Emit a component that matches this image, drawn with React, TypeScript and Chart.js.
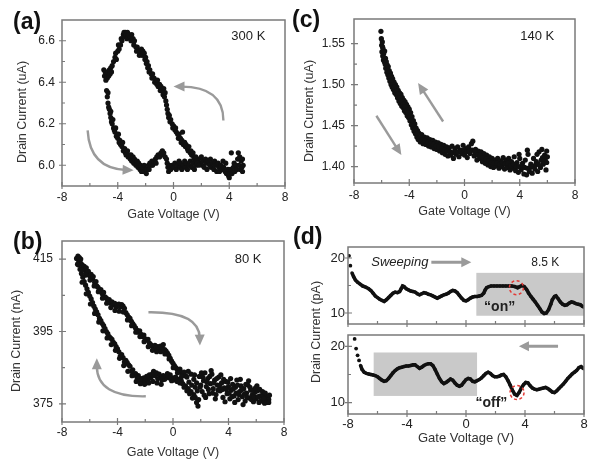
import React, { useEffect, useRef } from "react";
import { Chart, registerables } from "chart.js";

Chart.register(...registerables);

const FONT = '"Liberation Sans", Arial, Helvetica, sans-serif';
const INK = "#111111";
const ARROW = "#9a9a9a";
const FRAME = "#7a7a7a";
const LABEL = "#222222";

// ---------------- shared axis values ----------------
const gateTicks = [-8, -4, 0, 4, 8];
const gateMinor = [-6, -2, 2, 6];

// ---------------- panel (a) 300 K ----------------
const aCurrentTicks = [6.0, 6.2, 6.4, 6.6];
const aCurrentMinor = [6.1, 6.3, 6.5];
const a300KUpper = [
  [-5.0, 6.46], [-4.95, 6.43], [-4.9, 6.45], [-4.85, 6.41], [-4.8, 6.44], [-4.75, 6.42], [-4.7, 6.45], [-4.65, 6.43],
  [-4.6, 6.46], [-4.55, 6.44], [-4.5, 6.47], [-4.45, 6.45], [-4.4, 6.48], [-4.3, 6.5], [-4.2, 6.52], [-4.15, 6.54],
  [-4.1, 6.51], [-4.0, 6.55], [-3.95, 6.58], [-3.9, 6.56], [-3.8, 6.58], [-3.75, 6.61], [-3.7, 6.6], [-3.6, 6.63],
  [-3.55, 6.64], [-3.5, 6.62], [-3.45, 6.64], [-3.4, 6.63], [-3.35, 6.61], [-3.3, 6.64], [-3.25, 6.62], [-3.2, 6.63],
  [-3.1, 6.62], [-3.05, 6.6], [-3.0, 6.63], [-2.9, 6.61], [-2.85, 6.58], [-2.8, 6.6], [-2.7, 6.57], [-2.65, 6.55],
  [-2.6, 6.57], [-2.5, 6.55], [-2.45, 6.53], [-2.4, 6.55], [-2.3, 6.56], [-2.25, 6.53], [-2.2, 6.55], [-2.1, 6.54],
  [-2.05, 6.51], [-2.0, 6.52], [-1.95, 6.49], [-1.9, 6.5], [-1.85, 6.47], [-1.8, 6.48], [-1.75, 6.45], [-1.7, 6.46],
  [-1.6, 6.44], [-1.55, 6.42], [-1.5, 6.44], [-1.4, 6.42], [-1.35, 6.4], [-1.3, 6.41], [-1.2, 6.39], [-1.15, 6.41],
  [-1.1, 6.38], [-1.0, 6.39], [-0.95, 6.36], [-0.9, 6.38], [-0.8, 6.36], [-0.75, 6.34], [-0.7, 6.37], [-0.65, 6.33],
  [-0.6, 6.35], [-0.55, 6.31], [-0.5, 6.29], [-0.45, 6.27], [-0.4, 6.25], [-0.35, 6.23], [-0.3, 6.24], [-0.25, 6.21],
  [-0.2, 6.22], [-0.1, 6.2], [-0.05, 6.18], [0.0, 6.19], [0.1, 6.17], [0.15, 6.18], [0.2, 6.16], [0.3, 6.15],
  [0.35, 6.13], [0.4, 6.15], [0.5, 6.13], [0.55, 6.11], [0.6, 6.12], [0.65, 6.16], [0.7, 6.1], [0.8, 6.11],
  [0.85, 6.09], [0.9, 6.1], [1.0, 6.08], [1.05, 6.07], [1.1, 6.09], [1.2, 6.06], [1.25, 6.07], [1.3, 6.05],
  [1.4, 6.06], [1.45, 6.04], [1.5, 6.03], [1.6, 6.04], [1.65, 6.02], [1.7, 6.01], [1.8, 6.0],
];
const a300KLower = [
  [-4.8, 6.36], [-4.75, 6.33], [-4.7, 6.35], [-4.7, 6.3], [-4.65, 6.28], [-4.6, 6.27], [-4.55, 6.25], [-4.5, 6.23],
  [-4.5, 6.26], [-4.45, 6.21], [-4.4, 6.2], [-4.35, 6.22], [-4.3, 6.18], [-4.25, 6.17], [-4.2, 6.16], [-4.15, 6.18],
  [-4.1, 6.14], [-4.0, 6.13], [-3.95, 6.15], [-3.9, 6.11], [-3.85, 6.12], [-3.8, 6.1], [-3.7, 6.09], [-3.65, 6.11],
  [-3.6, 6.07], [-3.5, 6.08], [-3.45, 6.06], [-3.4, 6.05], [-3.3, 6.07], [-3.25, 6.04], [-3.2, 6.05], [-3.1, 6.03],
  [-3.05, 6.05], [-3.0, 6.02], [-2.9, 6.04], [-2.85, 6.01], [-2.8, 6.03], [-2.7, 6.0], [-2.6, 6.02], [-2.55, 5.99],
  [-2.5, 6.01], [-2.4, 5.98], [-2.35, 6.0], [-2.3, 5.97], [-2.2, 5.99], [-2.15, 5.97], [-2.1, 6.0], [-2.0, 5.98],
  [-1.95, 5.96], [-1.9, 5.98], [-1.8, 6.0], [-1.75, 5.98], [-1.7, 6.01], [-1.6, 6.0], [-1.55, 6.02], [-1.5, 6.0],
  [-1.4, 6.02], [-1.3, 6.03], [-1.25, 6.01], [-1.2, 6.04], [-1.1, 6.05], [-1.0, 6.04], [-0.9, 6.06], [-0.8, 6.07],
  [-0.75, 6.05], [-0.7, 6.06], [-0.6, 6.04], [-0.5, 6.03], [-0.45, 6.01], [-0.4, 5.99], [-0.35, 5.97], [-0.3, 6.0],
  [-0.2, 5.98], [-0.1, 6.0], [0.0, 5.99], [0.1, 6.01], [0.2, 5.98], [0.3, 6.0], [0.4, 6.02], [0.45, 5.99],
  [0.5, 6.01], [0.6, 5.98], [0.7, 6.0], [0.8, 6.02], [0.85, 5.99], [0.9, 6.01], [1.0, 5.98], [1.1, 6.0],
  [1.2, 6.02], [1.3, 5.99], [1.4, 6.01], [1.5, 5.98], [1.6, 6.0], [1.7, 6.02], [1.8, 6.03], [1.9, 6.01],
  [2.0, 6.04], [2.05, 6.0], [2.1, 6.02], [2.2, 5.99], [2.3, 6.03], [2.35, 6.01], [2.4, 5.98], [2.5, 6.02],
  [2.6, 6.0], [2.65, 6.03], [2.7, 5.99], [2.8, 6.01], [2.9, 5.98], [2.95, 6.02], [3.0, 6.0], [3.1, 5.97],
  [3.2, 6.01], [3.25, 5.99], [3.3, 5.97], [3.4, 6.0], [3.5, 5.98], [3.55, 6.02], [3.6, 5.99], [3.7, 5.97],
  [3.75, 6.01], [3.8, 5.96], [3.9, 5.98], [3.95, 5.95], [4.0, 5.94], [4.05, 5.96], [4.1, 5.98], [4.15, 6.06],
  [4.2, 5.96], [4.3, 5.99], [4.35, 6.01], [4.4, 5.97], [4.5, 6.0], [4.55, 5.98], [4.6, 6.03], [4.65, 6.06],
  [4.7, 6.0], [4.75, 6.04], [4.8, 5.98], [4.85, 6.02], [4.9, 5.99], [4.95, 6.03], [5.0, 6.0], [4.95, 5.97],
];

// ---------------- panel (c) 140 K ----------------
const cCurrentTicks = [1.4, 1.45, 1.5, 1.55];
const cCurrentMinor = [1.425, 1.475, 1.525];
const c140KPoints = [
  [-6.05, 1.565], [-6.02, 1.556], [-6.0, 1.548], [-5.98, 1.54], [-5.95, 1.552], [-5.92, 1.535], [-5.9, 1.544],
  [-5.87, 1.53], [-5.85, 1.538], [-5.8, 1.528], [-5.78, 1.541], [-5.75, 1.525], [-5.72, 1.532], [-5.7, 1.52],
  [-5.66, 1.528], [-5.62, 1.515], [-5.6, 1.524], [-5.55, 1.512], [-5.52, 1.522], [-5.48, 1.508], [-5.45, 1.517],
  [-5.4, 1.504], [-5.36, 1.514], [-5.32, 1.5], [-5.28, 1.51], [-5.24, 1.497], [-5.2, 1.507], [-5.15, 1.494],
  [-5.1, 1.503], [-5.05, 1.49], [-5.0, 1.5], [-4.95, 1.488], [-4.9, 1.497], [-4.85, 1.484], [-4.8, 1.493],
  [-4.75, 1.48], [-4.7, 1.49], [-4.65, 1.477], [-4.6, 1.488], [-4.55, 1.474], [-4.5, 1.484], [-4.45, 1.472],
  [-4.4, 1.481], [-4.35, 1.468], [-4.3, 1.479], [-4.25, 1.466], [-4.2, 1.476], [-4.15, 1.462], [-4.1, 1.473],
  [-4.05, 1.46], [-4.0, 1.47], [-3.95, 1.456], [-3.9, 1.466], [-3.85, 1.451], [-3.8, 1.461], [-3.75, 1.447],
  [-3.7, 1.456], [-3.65, 1.443], [-3.6, 1.452], [-3.55, 1.44], [-3.5, 1.447], [-3.45, 1.436], [-3.4, 1.444],
  [-3.35, 1.433], [-3.3, 1.441], [-3.2, 1.43], [-3.1, 1.439], [-3.0, 1.428], [-2.9, 1.436], [-2.8, 1.427],
  [-2.7, 1.435], [-2.6, 1.425], [-2.5, 1.433], [-2.4, 1.424], [-2.3, 1.432], [-2.2, 1.422], [-2.1, 1.43],
  [-2.0, 1.421], [-1.9, 1.429], [-1.8, 1.419], [-1.7, 1.427], [-1.6, 1.417], [-1.5, 1.426], [-1.4, 1.415],
  [-1.3, 1.424], [-1.2, 1.413], [-1.1, 1.423], [-1.0, 1.414], [-0.9, 1.425], [-0.8, 1.41], [-0.7, 1.422],
  [-0.6, 1.415], [-0.5, 1.424], [-0.4, 1.412], [-0.3, 1.42], [-0.2, 1.416], [-0.1, 1.426], [0.0, 1.414],
  [0.1, 1.422], [0.2, 1.411], [0.3, 1.424], [0.4, 1.416], [0.5, 1.428], [0.6, 1.431], [0.7, 1.413],
  [0.8, 1.421], [0.9, 1.408], [1.0, 1.419], [1.1, 1.41], [1.2, 1.418], [1.3, 1.406], [1.4, 1.416],
  [1.5, 1.404], [1.6, 1.414], [1.7, 1.402], [1.8, 1.412], [1.9, 1.4], [2.0, 1.41], [2.1, 1.399],
  [2.2, 1.408], [2.3, 1.401], [2.4, 1.41], [2.5, 1.398], [2.6, 1.407], [2.7, 1.4], [2.8, 1.411],
  [2.9, 1.397], [3.0, 1.408], [3.1, 1.399], [3.2, 1.41], [3.3, 1.396], [3.4, 1.406], [3.5, 1.398],
  [3.6, 1.412], [3.7, 1.395], [3.8, 1.405], [3.9, 1.393], [4.0, 1.41], [4.1, 1.396], [4.2, 1.404],
  [4.3, 1.391], [4.4, 1.408], [4.5, 1.39], [4.6, 1.415], [4.7, 1.394], [4.8, 1.403], [4.9, 1.392],
  [5.0, 1.41], [5.1, 1.397], [5.2, 1.406], [5.3, 1.394], [5.4, 1.418], [5.5, 1.399], [5.6, 1.421],
  [5.7, 1.403], [5.8, 1.414], [5.9, 1.396], [6.0, 1.412], [5.95, 1.419], [5.85, 1.408], [5.65, 1.411],
  [5.25, 1.415], [4.55, 1.42], [3.95, 1.415],
  [-5.93, 1.546], [-5.83, 1.533], [-5.68, 1.524], [-5.58, 1.517], [-5.43, 1.51], [-5.33, 1.505], [-5.18, 1.5],
  [-5.08, 1.497], [-4.93, 1.492], [-4.83, 1.488], [-4.68, 1.484], [-4.58, 1.48], [-4.43, 1.476], [-4.33, 1.473],
  [-4.18, 1.469], [-4.08, 1.466], [-3.93, 1.461], [-3.83, 1.457], [-3.68, 1.45], [-3.58, 1.446], [-3.43, 1.44],
  [-3.25, 1.435], [-3.05, 1.433], [-2.85, 1.431], [-2.65, 1.43], [-2.45, 1.428], [-2.25, 1.427], [-2.05, 1.425],
  [-1.85, 1.424], [-1.65, 1.422], [-1.45, 1.42], [-1.25, 1.419], [-1.05, 1.418], [-0.85, 1.417], [-0.65, 1.418],
  [-0.45, 1.418], [-0.25, 1.419], [-0.05, 1.42], [0.15, 1.418], [0.35, 1.419], [0.55, 1.42], [0.75, 1.418],
  [0.95, 1.414], [1.15, 1.413], [1.35, 1.411], [1.55, 1.409], [1.75, 1.407], [1.95, 1.405], [2.15, 1.404],
  [2.35, 1.404], [2.55, 1.403], [2.75, 1.405], [2.95, 1.403], [3.15, 1.404], [3.35, 1.401], [3.55, 1.403],
  [3.75, 1.4], [3.95, 1.4], [4.15, 1.4], [4.35, 1.399], [4.55, 1.398], [4.75, 1.399], [4.95, 1.4],
  [5.15, 1.402], [5.35, 1.403], [5.55, 1.408], [5.75, 1.406], [5.95, 1.405],
];

// ---------------- panel (b) 80 K ----------------
const bCurrentTicks = [375, 395, 415];
const bCurrentMinor = [385, 405];
const b80KUpper = [
  [-6.95, 415.2], [-6.85, 415.8], [-6.8, 414.6], [-6.75, 415.4], [-6.7, 414.2], [-6.65, 415], [-6.6, 413.6],
  [-6.5, 413.2], [-6.45, 412.4], [-6.4, 413], [-6.3, 411.8], [-6.25, 412.6], [-6.2, 411.2], [-6.1, 411.6],
  [-6.0, 410.4], [-5.9, 410.8], [-5.8, 409.6], [-5.75, 410.2], [-5.65, 408.6], [-5.55, 408.8], [-5.5, 407.6],
  [-5.4, 407.2], [-5.3, 406.4], [-5.2, 406.6], [-5.1, 405.4], [-5.0, 405.8], [-4.9, 404.6], [-4.8, 404.2],
  [-4.7, 403.6], [-4.6, 403.8], [-4.5, 402.8], [-4.4, 403.2], [-4.3, 402.4], [-4.2, 402.8], [-4.1, 401.8],
  [-4.0, 402.4], [-3.9, 402.6], [-3.8, 401.8], [-3.7, 402.4], [-3.6, 402.0], [-3.5, 401.4], [-3.4, 400.2],
  [-3.3, 399.6], [-3.2, 399.0], [-3.1, 398.6], [-3.0, 397.8], [-2.9, 397.2], [-2.8, 396.6], [-2.7, 396.0],
  [-2.6, 395.4], [-2.5, 394.8], [-2.4, 395.2], [-2.3, 394.2], [-2.2, 393.6], [-2.1, 394.0], [-2.0, 393.0],
  [-1.9, 392.6], [-1.8, 392.8], [-1.7, 391.8], [-1.6, 391.4], [-1.5, 391.0], [-1.4, 390.6], [-1.3, 391.2],
  [-1.2, 390.4], [-1.1, 390.8], [-1.0, 390.2], [-0.9, 391.0], [-0.8, 390.6], [-0.7, 391.4], [-0.6, 390.0],
  [-0.5, 389.6], [-0.4, 389.0], [-0.3, 388.4], [-0.2, 387.6], [-0.1, 386.8], [0.0, 386.2], [0.1, 385.6],
  [0.2, 385.0], [0.3, 384.6], [0.4, 384.2], [0.5, 384.6], [0.6, 383.6], [0.7, 383.2], [0.8, 383.8],
  [0.9, 382.8], [1.0, 382.4],
  [-6.88, 413.6], [-6.58, 412.0], [-6.28, 410.6], [-5.98, 409.2], [-5.68, 407.6], [-5.38, 406.0], [-5.08, 404.2],
  [-4.78, 402.8], [-4.48, 401.6], [-4.18, 400.8], [-3.88, 400.6], [-3.58, 400.4], [-3.28, 398.2], [-2.98, 396.6],
  [-2.68, 394.8], [-2.38, 393.6], [-2.08, 392.2], [-1.78, 390.8], [-1.48, 389.8], [-1.18, 389.4], [-0.88, 389.4],
  [-0.58, 388.8], [-0.28, 387.4], [0.02, 385.0], [0.32, 383.6], [0.62, 382.6],
];
const b80KLower = [
  [1.8, 374.4], [1.7, 375.4], [1.6, 376.8], [1.5, 377.6], [1.4, 376.6], [1.3, 378.4], [1.2, 377.8], [1.1, 379.2],
  [1.0, 378.6], [0.9, 380.0], [0.8, 379.6], [0.7, 380.6], [0.6, 381.4], [0.5, 380.8], [0.4, 381.8], [0.3, 381.2],
  [0.2, 382.4], [0.1, 381.6], [0.0, 382.2], [-0.1, 381.4], [-0.2, 383.0], [-0.3, 382.2], [-0.4, 383.4], [-0.5, 382.6],
  [-0.6, 381.8], [-0.7, 382.8], [-0.8, 381.6], [-0.9, 382.4], [-1.0, 383.2], [-1.1, 382.0], [-1.2, 383.6],
  [-1.3, 382.8], [-1.4, 384.0], [-1.5, 383.2], [-1.6, 382.2], [-1.7, 383.0], [-1.8, 381.8], [-1.9, 382.6],
  [-2.0, 381.4], [-2.1, 382.2], [-2.2, 381.2], [-2.3, 382.0], [-2.4, 381.6], [-2.5, 382.8], [-2.6, 382.4],
  [-2.7, 383.4], [-2.8, 383.0], [-2.9, 384.4], [-3.0, 384.0], [-3.1, 385.4], [-3.2, 385.8], [-3.3, 386.4],
  [-3.4, 387.0], [-3.5, 386.6], [-3.6, 387.8], [-3.7, 388.6], [-3.8, 388.2], [-3.9, 389.4], [-4.0, 390.2],
  [-4.1, 390.8], [-4.2, 391.6], [-4.3, 392.0], [-4.4, 392.8], [-4.5, 393.2], [-4.6, 393.6], [-4.7, 394.4],
  [-4.8, 395.0], [-4.9, 395.8], [-5.0, 396.6], [-5.1, 397.2], [-5.2, 398.0], [-5.3, 398.6], [-5.4, 399.6],
  [-5.5, 400.4], [-5.6, 401.2], [-5.7, 402.0], [-5.8, 403.0], [-5.9, 404.0], [-6.0, 404.8], [-6.1, 405.8],
  [-6.2, 406.8], [-6.3, 407.8], [-6.4, 408.8], [-6.5, 410.0], [-6.6, 411.0], [-6.7, 412.2], [-6.8, 413.4],
  [-6.55, 408.6], [-6.25, 405.4], [-5.95, 402.6], [-5.65, 400.0], [-5.35, 397.6], [-5.05, 395.2], [-4.75, 393.2],
  [-4.45, 391.4], [-4.15, 389.8], [-3.85, 387.6], [-3.55, 385.6], [-3.25, 384.0], [-2.95, 382.8], [-2.65, 381.2],
  [-2.35, 380.6], [-2.05, 380.4], [-1.75, 380.8], [-1.45, 381.2], [-1.15, 380.8], [-0.85, 380.4],
];
const b80KTail = [
  [1.1, 384.0], [1.3, 383.2], [1.5, 381.8], [1.6, 379.6], [1.7, 380.8], [1.9, 382.6], [2.0, 380.2], [2.1, 378.4],
  [2.2, 381.4], [2.3, 383.6], [2.4, 379.8], [2.5, 382.0], [2.6, 377.8], [2.7, 380.6], [2.8, 383.2], [2.9, 379.2],
  [3.0, 381.6], [3.1, 377.6], [3.2, 380.2], [3.3, 382.4], [3.4, 378.6], [3.5, 380.8], [3.6, 376.8], [3.7, 379.4],
  [3.8, 381.2], [3.9, 377.8], [4.0, 379.8], [4.1, 376.4], [4.2, 378.8], [4.3, 380.4], [4.4, 377.2], [4.5, 379.6],
  [4.6, 381.6], [4.7, 376.2], [4.8, 378.4], [4.9, 380.0], [5.0, 377.0], [5.1, 379.2], [5.2, 375.8], [5.3, 378.0],
  [5.4, 380.2], [5.5, 376.6], [5.6, 378.8], [5.7, 377.4], [5.8, 375.6], [5.9, 378.2], [6.0, 376.4], [6.1, 378.6],
  [6.2, 375.4], [6.3, 377.2], [6.4, 376.0], [6.5, 377.6], [6.6, 375.2], [6.7, 376.8], [6.8, 375.8], [6.85, 377.0],
  [6.9, 376.2], [2.05, 383.6], [2.75, 384.2], [3.45, 383.0], [4.15, 382.0], [4.85, 381.8], [5.45, 381.4],
  [6.05, 380.0], [2.35, 376.8], [3.05, 376.4], [3.75, 375.6], [4.45, 375.4], [5.05, 374.8],
  [1.15, 381.0], [1.35, 380.2], [1.55, 383.0], [1.75, 378.6], [1.85, 376.2], [1.95, 379.6], [2.15, 382.4],
  [2.25, 377.4], [2.45, 381.0], [2.55, 379.0], [2.65, 382.6], [2.85, 378.0], [2.95, 380.8], [3.15, 382.0],
  [3.25, 378.8], [3.35, 380.0], [3.55, 379.0], [3.65, 381.8], [3.85, 379.0], [3.95, 381.0], [4.05, 378.0],
  [4.25, 377.0], [4.35, 379.2], [4.55, 378.0], [4.65, 380.2], [4.75, 377.6], [4.95, 379.0], [5.15, 377.8],
  [5.25, 380.4], [5.35, 376.8], [5.55, 379.6], [5.65, 376.2], [5.75, 378.8], [5.85, 377.0], [5.95, 379.4],
  [6.15, 377.0], [6.25, 379.0], [6.35, 375.8], [6.45, 378.4], [6.55, 376.4], [6.65, 378.0], [6.75, 375.4],
  [6.95, 377.4], [6.9, 375.4],
];

// ---------------- panel (d) 8.5 K ----------------
const dCurrentTicks = [10, 20];
const dCurrentMinor = [15];
const dForwardDots = [[-7.93, 20.4], [-7.84, 18.6]];
const dForwardSweep = [
  [-7.73, 17.3], [-7.62, 16.6], [-7.5, 16.0], [-7.35, 15.6], [-7.2, 15.3], [-7.0, 14.9], [-6.8, 14.7], [-6.6, 14.4],
  [-6.45, 14.1], [-6.3, 13.6], [-6.15, 13.1], [-6.0, 12.8], [-5.85, 12.5], [-5.7, 12.3], [-5.55, 12.1], [-5.4, 12.4],
  [-5.25, 12.8], [-5.1, 13.2], [-4.95, 13.6], [-4.8, 13.8], [-4.65, 13.7], [-4.5, 13.9], [-4.4, 14.4], [-4.3, 14.9],
  [-4.2, 14.8], [-4.05, 14.4], [-3.9, 14.2], [-3.75, 14.0], [-3.6, 13.9], [-3.45, 13.8], [-3.3, 13.5], [-3.15, 13.3],
  [-3.0, 13.5], [-2.85, 13.7], [-2.7, 13.6], [-2.55, 13.4], [-2.4, 13.3], [-2.25, 13.1], [-2.1, 12.9], [-1.95, 12.7],
  [-1.8, 12.9], [-1.65, 13.1], [-1.5, 13.3], [-1.35, 13.4], [-1.2, 13.6], [-1.05, 13.9], [-0.9, 14.1], [-0.75, 14.0],
  [-0.6, 13.7], [-0.45, 13.2], [-0.3, 12.7], [-0.15, 12.3], [0.0, 12.2], [0.15, 12.4], [0.3, 12.7], [0.45, 12.9],
  [0.6, 13.0], [0.75, 13.0], [0.9, 13.1], [1.05, 13.2], [1.2, 13.6], [1.3, 14.2], [1.4, 14.6], [1.55, 14.8],
  [1.7, 14.9], [1.9, 14.9], [2.1, 14.9], [2.3, 14.9], [2.5, 14.9], [2.7, 14.9], [2.9, 14.9], [3.1, 14.9],
  [3.3, 14.8], [3.5, 14.6], [3.65, 14.8], [3.8, 15.0], [3.95, 14.8], [4.1, 14.3], [4.25, 13.6], [4.4, 13.0],
  [4.55, 12.5], [4.7, 12.0], [4.85, 11.4], [5.0, 10.8], [5.15, 10.2], [5.3, 9.9], [5.45, 10.0], [5.6, 10.6],
  [5.75, 11.6], [5.85, 12.4], [6.0, 13.0], [6.1, 13.1], [6.25, 12.6], [6.4, 12.0], [6.55, 11.6], [6.7, 11.4],
  [6.85, 11.5], [7.0, 11.8], [7.15, 12.0], [7.3, 11.9], [7.45, 11.7], [7.6, 11.6], [7.75, 11.5], [7.9, 11.2],
  [8.0, 11.1],
];
const dBackwardDots = [[-7.55, 21.3], [-7.45, 19.6], [-7.35, 18.4], [-7.25, 17.5]];
const dBackwardSweep = [
  [-7.15, 16.6], [-7.05, 15.9], [-6.9, 15.4], [-6.75, 15.2], [-6.6, 15.1], [-6.45, 15.0], [-6.3, 14.9], [-6.15, 14.8],
  [-6.0, 14.6], [-5.85, 14.3], [-5.7, 14.0], [-5.55, 13.8], [-5.4, 13.9], [-5.25, 14.3], [-5.1, 14.8], [-4.95, 15.3],
  [-4.8, 15.7], [-4.65, 16.0], [-4.5, 16.2], [-4.35, 16.3], [-4.2, 16.4], [-4.05, 16.5], [-3.9, 16.5], [-3.75, 16.6],
  [-3.6, 16.7], [-3.45, 16.7], [-3.3, 16.4], [-3.15, 16.1], [-3.0, 16.3], [-2.85, 16.6], [-2.7, 16.8], [-2.55, 16.9],
  [-2.4, 16.9], [-2.25, 16.6], [-2.1, 15.9], [-1.95, 15.1], [-1.8, 14.3], [-1.65, 13.7], [-1.5, 13.4], [-1.35, 13.6],
  [-1.2, 13.9], [-1.05, 14.2], [-0.9, 14.0], [-0.75, 13.5], [-0.6, 13.1], [-0.45, 12.9], [-0.3, 13.1], [-0.15, 13.6],
  [0.0, 14.1], [0.15, 14.3], [0.3, 14.2], [0.45, 13.8], [0.6, 13.7], [0.75, 13.9], [0.9, 14.1], [1.05, 14.4],
  [1.2, 14.8], [1.35, 15.2], [1.5, 15.4], [1.65, 15.2], [1.8, 14.8], [1.95, 14.6], [2.1, 14.6], [2.25, 14.7],
  [2.4, 14.9], [2.55, 15.0], [2.7, 14.6], [2.85, 13.9], [3.0, 13.1], [3.15, 12.2], [3.3, 11.5], [3.45, 11.3],
  [3.6, 11.8], [3.75, 12.6], [3.9, 13.2], [4.05, 13.6], [4.2, 13.5], [4.35, 13.0], [4.5, 12.6], [4.65, 12.4],
  [4.8, 12.3], [4.95, 12.4], [5.1, 12.5], [5.25, 12.6], [5.4, 12.7], [5.55, 12.5], [5.7, 12.2], [5.85, 11.9],
  [6.0, 11.8], [6.15, 12.1], [6.3, 12.5], [6.45, 12.9], [6.6, 13.3], [6.75, 13.8], [6.9, 14.3], [7.05, 14.7],
  [7.2, 15.1], [7.35, 15.4], [7.5, 15.7], [7.65, 16.2], [7.8, 16.4], [7.9, 16.2], [8.0, 16.0],
];

// ---------------- helpers ----------------
const toXY = (arr: number[][]) => arr.map(([x, y]) => ({ x, y }));

const dots = (arr: number[][], r = 2.6) => ({
  data: toXY(arr),
  showLine: false,
  pointRadius: r,
  pointBackgroundColor: INK,
  pointBorderWidth: 0,
  borderColor: INK,
});

const sweep = (arr: number[][]) => ({
  data: toXY(arr),
  showLine: true,
  borderColor: INK,
  borderWidth: 3.6,
  tension: 0,
  pointRadius: 1.7,
  pointBackgroundColor: INK,
  pointBorderWidth: 0,
});

function drawArrow(ctx: CanvasRenderingContext2D, p0: any, c: any, p1: any, color: string, lw: number, headLen: number, headW: number) {
  const ang = Math.atan2(p1.y - c.y, p1.x - c.x);
  const ex = p1.x - Math.cos(ang) * headLen * 0.7;
  const ey = p1.y - Math.sin(ang) * headLen * 0.7;
  ctx.save();
  ctx.strokeStyle = color;
  ctx.fillStyle = color;
  ctx.lineWidth = lw;
  ctx.beginPath();
  ctx.moveTo(p0.x, p0.y);
  ctx.quadraticCurveTo(c.x, c.y, ex, ey);
  ctx.stroke();
  const bx = p1.x - Math.cos(ang) * headLen;
  const by = p1.y - Math.sin(ang) * headLen;
  ctx.beginPath();
  ctx.moveTo(p1.x, p1.y);
  ctx.lineTo(bx + Math.sin(ang) * headW, by - Math.cos(ang) * headW);
  ctx.lineTo(bx - Math.sin(ang) * headW, by + Math.cos(ang) * headW);
  ctx.closePath();
  ctx.fill();
  ctx.restore();
}

const decorPlugin = {
  id: "decor",
  beforeDatasetsDraw(chart: any, _a: any, o: any) {
    const { ctx, chartArea: ca } = chart;
    const xs = chart.scales.x;
    const ys = chart.scales.y;
    ctx.save();
    ctx.beginPath();
    ctx.rect(ca.left, ca.top, ca.right - ca.left, ca.bottom - ca.top);
    ctx.clip();
    (o.rects || []).forEach((r: any) => {
      const x0 = xs.getPixelForValue(r.x0);
      const x1 = xs.getPixelForValue(r.x1);
      const y0 = ys.getPixelForValue(r.y0);
      const y1 = ys.getPixelForValue(r.y1);
      ctx.fillStyle = "#c9c9c9";
      ctx.fillRect(Math.min(x0, x1), Math.min(y0, y1), Math.abs(x1 - x0), Math.abs(y1 - y0));
    });
    ctx.restore();
  },
  afterDraw(chart: any, _a: any, o: any) {
    const { ctx, chartArea: ca } = chart;
    const xs = chart.scales.x;
    const ys = chart.scales.y;
    const P = (pt: number[]) => ({ x: xs.getPixelForValue(pt[0]), y: ys.getPixelForValue(pt[1]) });

    (o.circles || []).forEach((c: any) => {
      const p = P([c.x, c.y]);
      ctx.save();
      ctx.strokeStyle = "#e23b36";
      ctx.lineWidth = 1.5;
      ctx.setLineDash([3, 2.5]);
      ctx.beginPath();
      ctx.arc(p.x, p.y, c.r, 0, Math.PI * 2);
      ctx.stroke();
      ctx.restore();
    });

    (o.arrows || []).forEach((a: any) => {
      const p0 = P(a.from);
      const p1 = P(a.to);
      const c = a.ctrl ? P(a.ctrl) : { x: (p0.x + p1.x) / 2, y: (p0.y + p1.y) / 2 };
      drawArrow(ctx, p0, c, p1, ARROW, a.width || 2.4, a.head || 11, a.headW || 5);
    });

    (o.texts || []).forEach((t: any) => {
      const p = P([t.x, t.y]);
      ctx.save();
      ctx.font = `${t.italic ? "italic " : ""}${t.bold ? "bold " : ""}${t.size || 13}px ${FONT}`;
      ctx.fillStyle = t.color || "#222";
      ctx.textAlign = t.align || "center";
      ctx.textBaseline = "middle";
      ctx.fillText(t.text, p.x, p.y);
      ctx.restore();
    });

    // tick labels
    ctx.save();
    ctx.font = `${o.tickFont}px ${FONT}`;
    ctx.fillStyle = LABEL;
    ctx.textBaseline = "middle";
    if (o.xLabels) {
      ctx.textAlign = "center";
      (o.majorX || []).forEach((v: number) => {
        ctx.fillText(String(v), xs.getPixelForValue(v), ca.bottom + o.xLabelDy);
      });
    }
    ctx.textAlign = "right";
    (o.majorY || []).forEach((v: number) => {
      ctx.fillText(v.toFixed(o.yDecimals), ca.left - o.yLabelGap, ys.getPixelForValue(v));
    });
    ctx.restore();

    // axis titles
    const tf = `${o.titleFont || 12.5}px ${FONT}`;
    if (o.xTitle) {
      ctx.save();
      ctx.font = tf;
      ctx.fillStyle = "#333";
      ctx.textAlign = "center";
      ctx.textBaseline = "middle";
      ctx.fillText(o.xTitle.text, (ca.left + ca.right) / 2, ca.bottom + o.xTitle.dy);
      ctx.restore();
    }
    if (o.yTitle) {
      ctx.save();
      ctx.font = tf;
      ctx.fillStyle = "#333";
      ctx.textAlign = "center";
      ctx.textBaseline = "middle";
      ctx.translate(ca.left + o.yTitle.dx, (ca.top + ca.bottom) / 2 + o.yTitle.dy);
      ctx.rotate(-Math.PI / 2);
      ctx.fillText(o.yTitle.text, 0, 0);
      ctx.restore();
    }

    // free texts placed in canvas pixels (panel letters, shared axis title)
    (o.rawTexts || []).forEach((t: any) => {
      ctx.save();
      ctx.font = t.font;
      ctx.fillStyle = t.color || "#111";
      ctx.textAlign = t.align || "left";
      ctx.textBaseline = t.baseline || "alphabetic";
      ctx.translate(t.x, t.y);
      if (t.rotate) ctx.rotate(t.rotate);
      ctx.fillText(t.text, 0, 0);
      ctx.restore();
    });

    // frame and tick marks
    ctx.save();
    ctx.setLineDash([]);
    ctx.strokeStyle = FRAME;
    ctx.lineWidth = 1.5;
    ctx.strokeRect(ca.left, ca.top, ca.right - ca.left, ca.bottom - ca.top);
    ctx.lineWidth = 1.2;
    ctx.beginPath();
    (o.majorX || []).forEach((v: number) => {
      const px = xs.getPixelForValue(v);
      ctx.moveTo(px, ca.bottom + 3);
      ctx.lineTo(px, ca.bottom - 4);
    });
    (o.minorX || []).forEach((v: number) => {
      const px = xs.getPixelForValue(v);
      ctx.moveTo(px, ca.bottom);
      ctx.lineTo(px, ca.bottom - 3);
    });
    (o.majorY || []).forEach((v: number) => {
      const py = ys.getPixelForValue(v);
      ctx.moveTo(ca.left - 3, py);
      ctx.lineTo(ca.left + 4, py);
    });
    (o.minorY || []).forEach((v: number) => {
      const py = ys.getPixelForValue(v);
      ctx.moveTo(ca.left, py);
      ctx.lineTo(ca.left + 3, py);
    });
    ctx.stroke();
    ctx.restore();
  },
};

function buildConfig(s: any) {
  return {
    type: "scatter",
    data: { datasets: s.datasets },
    options: {
      animation: false,
      responsive: false,
      devicePixelRatio: 1,
      layout: { padding: s.padding },
      plugins: {
        legend: { display: false },
        tooltip: { enabled: false },
        decor: { ...s.decor, tickFont: s.tickFont, yDecimals: s.yDecimals },
      },
      scales: {
        x: {
          type: "linear",
          min: -8,
          max: 8,
          grid: { display: false, drawTicks: false, tickLength: 0 },
          border: { display: false },
          ticks: { display: false, padding: 0 },
          afterBuildTicks: (sc: any) => {
            sc.ticks = gateTicks.map((v) => ({ value: v }));
          },
          afterFit: (sc: any) => {
            sc.height = s.xAxisH;
          },
        },
        y: {
          type: "linear",
          min: s.yMin,
          max: s.yMax,
          grid: { display: false, drawTicks: false, tickLength: 0 },
          border: { display: false },
          ticks: { display: false, padding: 0 },
          afterBuildTicks: (sc: any) => {
            sc.ticks = s.yTicks.map((v: number) => ({ value: v }));
          },
          afterFit: (sc: any) => {
            sc.width = s.yAxisW;
          },
        },
      },
    },
    plugins: [decorPlugin],
  };
}

function Panel({ spec }: any) {
  const ref = useRef<HTMLCanvasElement | null>(null);
  useEffect(() => {
    const chart = new Chart(ref.current as HTMLCanvasElement, buildConfig(spec) as any);
    return () => chart.destroy();
  }, []);
  return (
    <canvas
      ref={ref}
      width={spec.width}
      height={spec.height}
      style={{ position: "absolute", left: spec.left, top: spec.top, width: spec.width, height: spec.height }}
    />
  );
}

const letterFont = `bold 23px ${FONT}`;
const dTitleFont = `12.5px ${FONT}`;

const specA = {
  left: 0, top: 0, width: 290, height: 224,
  datasets: [dots(a300KUpper), dots(a300KLower)],
  yMin: 5.9, yMax: 6.7, yTicks: aCurrentTicks, yDecimals: 1,
  padding: { top: 20, right: 5, bottom: 0, left: 0 },
  yAxisW: 62, xAxisH: 38, tickFont: 12,
  decor: {
    xLabels: true, xLabelDy: 12, yLabelGap: 7,
    majorX: gateTicks, minorX: gateMinor, majorY: aCurrentTicks, minorY: aCurrentMinor,
    xTitle: { text: "Gate Voltage (V)", dy: 29 },
    yTitle: { text: "Drain Current (uA)", dx: -39, dy: 9 },
    texts: [{ x: 5.37, y: 6.62, text: "300 K", size: 13 }],
    arrows: [
      { from: [3.58, 6.216], ctrl: [3.58, 6.379], to: [0.0, 6.379] },
      { from: [-6.16, 6.168], ctrl: [-6.01, 5.984], to: [-2.86, 5.976] },
    ],
    rawTexts: [{ text: "(a)", x: 13, y: 28.5, font: letterFont }],
  },
};

const specC = {
  left: 290, top: 0, width: 310, height: 222,
  datasets: [dots(c140KPoints)],
  yMin: 1.38, yMax: 1.58, yTicks: cCurrentTicks, yDecimals: 2,
  padding: { top: 19, right: 25, bottom: 0, left: 0 },
  yAxisW: 64, xAxisH: 39, tickFont: 12,
  decor: {
    xLabels: true, xLabelDy: 13, yLabelGap: 9,
    majorX: gateTicks, minorX: gateMinor, majorY: cCurrentTicks, minorY: cCurrentMinor,
    xTitle: { text: "Gate Voltage (V)", dy: 29 },
    yTitle: { text: "Drain Current (uA)", dx: -44, dy: 10 },
    texts: [{ x: 5.27, y: 1.559, text: "140 K", size: 13 }],
    arrows: [
      { from: [-1.55, 1.455], to: [-3.36, 1.502] },
      { from: [-6.38, 1.462], to: [-4.57, 1.414] },
    ],
    rawTexts: [{ text: "(c)", x: 2, y: 26.5, font: letterFont }],
  },
};

const specB = {
  left: 0, top: 224, width: 290, height: 248,
  datasets: [dots(b80KUpper), dots(b80KLower), dots(b80KTail)],
  yMin: 370, yMax: 420, yTicks: bCurrentTicks, yDecimals: 0,
  padding: { top: 17, right: 6, bottom: 0, left: 0 },
  yAxisW: 62, xAxisH: 50, tickFont: 12,
  decor: {
    xLabels: true, xLabelDy: 11, yLabelGap: 9,
    majorX: gateTicks, minorX: gateMinor, majorY: bCurrentTicks, minorY: bCurrentMinor,
    xTitle: { text: "Gate Voltage (V)", dy: 31 },
    yTitle: { text: "Drain Current (nA)", dx: -45, dy: 9.5 },
    texts: [{ x: 5.41, y: 415, text: "80 K", size: 13 }],
    arrows: [
      { from: [-1.77, 400.3], ctrl: [1.89, 400.5], to: [1.94, 391.1] },
      { from: [-1.96, 377.1], ctrl: [-5.49, 376.8], to: [-5.49, 387.6] },
    ],
    rawTexts: [{ text: "(b)", x: 13, y: 24.5, font: letterFont }],
  },
};

const specDTop = {
  left: 290, top: 222, width: 310, height: 106,
  datasets: [dots(dForwardDots, 1.9), sweep(dForwardSweep)],
  yMin: 8, yMax: 22, yTicks: dCurrentTicks, yDecimals: 0,
  padding: { top: 25, right: 16, bottom: 0, left: 0 },
  yAxisW: 58, xAxisH: 3, tickFont: 13,
  decor: {
    xLabels: false, xLabelDy: 10, yLabelGap: 3,
    majorX: gateTicks, minorX: gateMinor, majorY: dCurrentTicks, minorY: dCurrentMinor,
    rects: [{ x0: 0.7, x1: 8, y0: 9.5, y1: 17.3 }],
    circles: [{ x: 3.42, y: 14.6, r: 7 }],
    texts: [
      { x: -6.42, y: 19.2, text: "Sweeping", italic: true, align: "left", size: 13 },
      { x: 5.38, y: 19.2, text: "8.5 K", size: 12 },
      { x: 2.28, y: 11.0, text: "\u201Con\u201D", bold: true, size: 14 },
    ],
    arrows: [{ from: [-2.35, 19.24], to: [0.36, 19.24], width: 3, head: 10, headW: 5 }],
    rawTexts: [
      { text: "(d)", x: 3, y: 21.5, font: letterFont },
      { text: "Drain Current (pA)", x: 27, y: 110, font: dTitleFont, color: "#333", align: "center", baseline: "middle", rotate: -Math.PI / 2 },
    ],
  },
};

const specDBottom = {
  left: 290, top: 328, width: 310, height: 144,
  datasets: [dots(dBackwardDots, 1.9), sweep(dBackwardSweep)],
  yMin: 8, yMax: 22, yTicks: dCurrentTicks, yDecimals: 0,
  padding: { top: 7, right: 16, bottom: 0, left: 0 },
  yAxisW: 58, xAxisH: 58, tickFont: 13,
  decor: {
    xLabels: true, xLabelDy: 10, yLabelGap: 3,
    majorX: gateTicks, minorX: gateMinor, majorY: dCurrentTicks, minorY: dCurrentMinor,
    rects: [{ x0: -6.26, x1: 0.75, y0: 11.2, y1: 18.9 }],
    circles: [{ x: 3.46, y: 11.8, r: 7 }],
    texts: [{ x: 1.72, y: 9.88, text: "\u201Coff\u201D", bold: true, size: 14 }],
    arrows: [{ from: [6.24, 20], to: [3.59, 20], width: 3, head: 10, headW: 5 }],
    xTitle: { text: "Gate Voltage (V)", dy: 24 },
    titleFont: 13,
    rawTexts: [
      { text: "Drain Current (pA)", x: 27, y: 4, font: dTitleFont, color: "#333", align: "center", baseline: "middle", rotate: -Math.PI / 2 },
    ],
  },
};

export default function App() {
  return (
    <div style={{ position: "fixed", left: 0, top: 0, width: 600, height: 472, background: "#fff", overflow: "hidden" }}>
      <Panel spec={specA} />
      <Panel spec={specC} />
      <Panel spec={specB} />
      <Panel spec={specDTop} />
      <Panel spec={specDBottom} />
    </div>
  );
}
